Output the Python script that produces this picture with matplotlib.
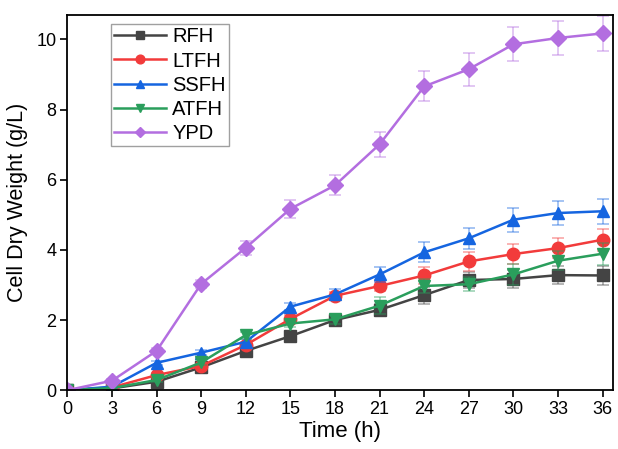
import matplotlib
matplotlib.use('Agg')
import matplotlib.pyplot as plt

plt.rcParams['font.family'] = ['Liberation Sans', 'DejaVu Sans']

time = [0, 3, 6, 9, 12, 15, 18, 21, 24, 27, 30, 33, 36]

rfh = [0, 0.05, 0.24, 0.65, 1.12, 1.54, 2.0, 2.29, 2.71, 3.14, 3.17, 3.28, 3.27]
rfh_err = [0.02, 0.03, 0.05, 0.07, 0.08, 0.08, 0.12, 0.17, 0.24, 0.24, 0.26, 0.26, 0.27]

ltfh = [0, 0.08, 0.43, 0.69, 1.29, 2.03, 2.69, 2.97, 3.27, 3.67, 3.88, 4.05, 4.29]
ltfh_err = [0.02, 0.03, 0.05, 0.07, 0.08, 0.1, 0.12, 0.13, 0.24, 0.27, 0.29, 0.29, 0.31]

ssfh = [0, 0.1, 0.78, 1.07, 1.38, 2.38, 2.73, 3.30, 3.93, 4.33, 4.86, 5.05, 5.10]
ssfh_err = [0.02, 0.03, 0.06, 0.07, 0.08, 0.1, 0.14, 0.22, 0.28, 0.3, 0.34, 0.35, 0.36]

atfh = [0, 0.06, 0.29, 0.79, 1.57, 1.90, 2.02, 2.41, 2.97, 3.02, 3.30, 3.69, 3.89]
atfh_err = [0.02, 0.03, 0.05, 0.07, 0.1, 0.1, 0.12, 0.25, 0.2, 0.2, 0.29, 0.27, 0.31]

ypd = [0, 0.27, 1.12, 3.03, 4.06, 5.17, 5.84, 7.01, 8.66, 9.15, 9.86, 10.04, 10.17]
ypd_err = [0.02, 0.05, 0.08, 0.12, 0.2, 0.26, 0.29, 0.35, 0.43, 0.47, 0.49, 0.49, 0.51]

series = [
    ('RFH', rfh, rfh_err, '#444444', 's'),
    ('LTFH', ltfh, ltfh_err, '#f23b3b', 'o'),
    ('SSFH', ssfh, ssfh_err, '#1565e0', '^'),
    ('ATFH', atfh, atfh_err, '#2a9e5c', 'v'),
    ('YPD', ypd, ypd_err, '#b36ee0', 'D'),
]

fig = plt.figure(figsize=(6.18, 4.49), dpi=100)
ax = fig.add_axes([0.109, 0.131, 0.883, 0.836])

for name, y, err, color, marker in series:
    ax.errorbar(time, y, yerr=err, fmt='none', ecolor=color, alpha=0.45,
                elinewidth=1.2, capsize=4, capthick=1.2)
    ax.plot(time, y, color=color, marker=marker, lw=1.8,
            markersize=9 if marker != 'D' else 8, label=name)

ax.set_xlim(0, 36.7)
ax.set_ylim(0, 10.7)
ax.set_xticks(range(0, 37, 3))
ax.set_yticks(range(0, 11, 2))
ax.tick_params(direction='out', length=5, width=1.2, labelsize=13, pad=3)
for s in ax.spines.values():
    s.set_linewidth(1.3)

ax.set_xlabel('Time (h)', fontsize=16, labelpad=2)
ax.set_ylabel('Cell Dry Weight (g/L)', fontsize=15.5, labelpad=6)

leg = ax.legend(loc='upper left', bbox_to_anchor=(0.072, 0.985), fontsize=14.5,
                frameon=True, fancybox=False, edgecolor='#888888',
                handlelength=2.6, borderpad=0.15, labelspacing=0.25,
                handletextpad=0.3, borderaxespad=0.2, markerscale=0.7)
leg.get_frame().set_linewidth(1.0)

fig.savefig('out.png', dpi=100)
